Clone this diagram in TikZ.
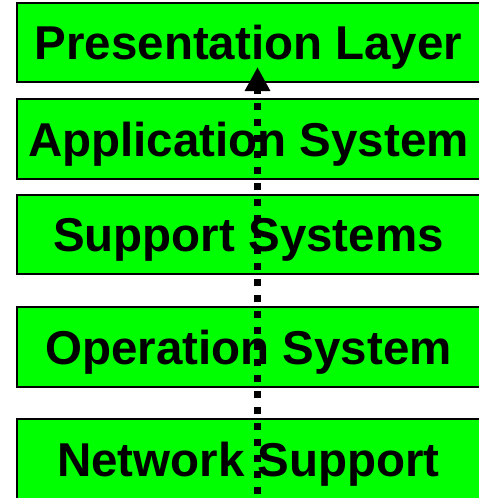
\documentclass[tikz,border=0pt]{standalone}
\usepackage{fontspec}
\setmainfont{Liberation Sans}
\usetikzlibrary{arrows.meta}
\definecolor{layergreen}{HTML}{00FF00}
\tikzset{
  layer/.style={draw=black, line width=2pt, fill=layergreen, rectangle,
    minimum width=463pt, inner sep=0pt, text height=34pt, text depth=0pt,
    font=\fontsize{47.5}{57}\selectfont\bfseries},
  flow/.style={line width=7pt, dash pattern=on 7.3pt off 8.7pt,
    -{Triangle[length=24pt,width=24pt]}}
}
\begin{document}
\begin{tikzpicture}[x=1pt,y=-1pt]
\useasboundingbox (0,0) rectangle (479,498);
\node[layer, minimum height=79pt] (pres) at (248.5,42.5) {Presentation Layer};
\node[layer, minimum height=80pt] (app) at (248.5,139) {Application System};
\node[layer, minimum height=79pt] (supp) at (248.5,234.5) {Support Systems};
\node[layer, minimum height=80pt] (oper) at (248.5,347) {Operation System};
\node[layer, minimum height=80pt] (net) at (248.5,459) {Network Support};
\coordinate (start) at (257.5,494);
\coordinate (end) at (257.5,67);
\draw[flow] (start) -- (end);
\end{tikzpicture}
\end{document}
